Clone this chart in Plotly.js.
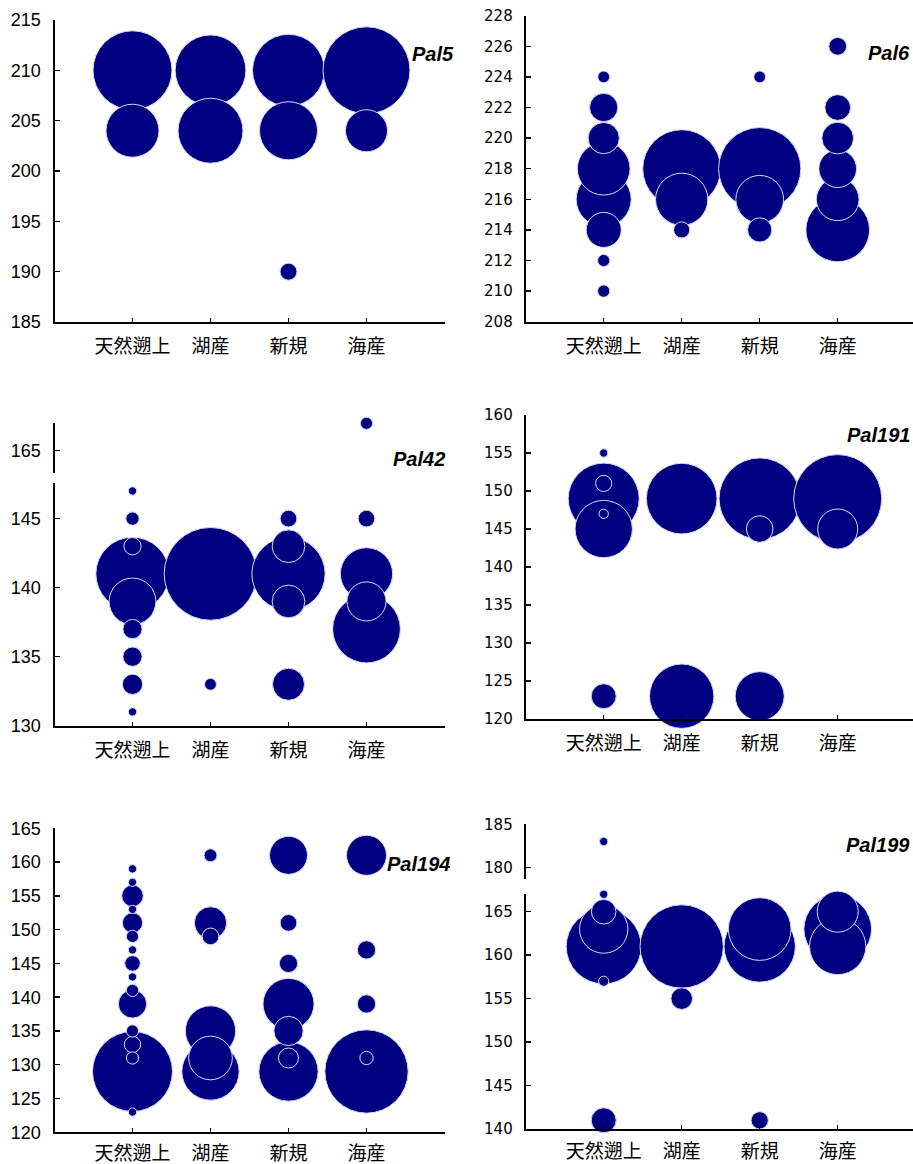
<!DOCTYPE html>
<html><head><meta charset="utf-8">
<script src="https://cdn.plot.ly/plotly-3.0.1.min.js"></script>
<style>html,body{margin:0;padding:0;background:#fff;} #chart{width:913px;height:1164px;}</style>
</head><body><div id="chart"></div>
<script>
// ---------------- DATA ----------------
const categories = ['天然遡上', '湖産', '新規', '海産'];
const categoryX = [1, 2, 3, 4];
const lociNames = ['Pal5', 'Pal6', 'Pal42', 'Pal191', 'Pal194', 'Pal199'];

// allele sizes (bp) per population, in the order of `categories`
const pal5Alleles = [[210, 204], [210, 204], [210, 204, 190], [210, 204]];
const pal5Freq    = [[0.671, 0.302], [0.538, 0.454], [0.557, 0.362, 0.031], [0.814, 0.190]];

const pal6Alleles = [[224, 222, 220, 218, 216, 214, 212, 210], [218, 216, 214], [224, 218, 216, 214], [226, 222, 220, 218, 216, 214]];
const pal6Freq    = [[0.015, 0.086, 0.105, 0.299, 0.325, 0.132, 0.016, 0.016], [0.654, 0.294, 0.028], [0.015, 0.728, 0.245, 0.063], [0.034, 0.071, 0.108, 0.153, 0.196, 0.436]];

const pal42Alleles = [[147, 145, 143, 141, 139, 137, 135, 133, 131], [141, 133], [145, 143, 141, 139, 133], [167, 145, 141, 139, 137]];
const pal42Freq    = [[0.0074, 0.019, 0.032, 0.578, 0.235, 0.040, 0.040, 0.044, 0.0074], [0.924, 0.015], [0.030, 0.115, 0.578, 0.115, 0.110], [0.016, 0.030, 0.294, 0.164, 0.493]];

const pal191Alleles = [[155, 151, 149, 147, 145, 123], [149, 123], [149, 145, 123], [149, 145]];
const pal191Freq    = [[0.0074, 0.028, 0.542, 0.0094, 0.353, 0.067], [0.537, 0.445], [0.711, 0.076, 0.258], [0.833, 0.172]];

const pal194Alleles = [[159, 157, 155, 153, 151, 149, 147, 145, 143, 141, 139, 135, 133, 131, 129, 123], [161, 151, 149, 135, 131, 129], [161, 151, 145, 139, 135, 131, 129], [161, 147, 139, 131, 129]];
const pal194Freq    = [[0.0074, 0.0074, 0.050, 0.0074, 0.044, 0.016, 0.0074, 0.026, 0.0074, 0.016, 0.086, 0.016, 0.029, 0.016, 0.688, 0.0074], [0.018, 0.112, 0.030, 0.272, 0.205, 0.353], [0.155, 0.030, 0.036, 0.280, 0.092, 0.043, 0.378], [0.172, 0.036, 0.036, 0.019, 0.747]];

const pal199Alleles = [[183, 167, 165, 163, 161, 157, 141], [161, 155], [163, 161, 141], [165, 163, 161]];
const pal199Freq    = [[0.0074, 0.0074, 0.065, 0.251, 0.605, 0.011, 0.067], [0.747, 0.050], [0.422, 0.547, 0.032], [0.181, 0.492, 0.341]];

// ---------------- LAYOUT / STYLE ----------------
const W = 913, H = 1164;
const NAVY = '#000080';
const leftFont = {family: 'Liberation Sans, Arial, sans-serif', size: 18, color: '#000'};
const rightFont = {family: 'DejaVu Sans, sans-serif', size: 15, color: '#000'};
const catFont = {family: 'Noto Sans CJK JP, sans-serif', size: 19, color: '#000'};
const labelFont = {family: 'Liberation Sans, Arial, sans-serif', size: 20, color: '#000'};
const unit = 78;

const panels = [
  {alleles: pal5Alleles, freq: pal5Freq, xl: 54.5, font: leftFont, catPad: 6,
   segs: [{range: [185, 215], top: 20, bottom: 322, dtick: 5}], lab: [410, 54.3]},
  {alleles: pal6Alleles, freq: pal6Freq, xl: 525.7, font: rightFont, catPad: 6,
   segs: [{range: [208, 228], top: 15.7, bottom: 321.7, dtick: 2}], lab: [866, 53.3]},
  {alleles: pal42Alleles, freq: pal42Freq, xl: 54.5, font: leftFont, catPad: 6,
   segs: [{range: [130, 147.6], top: 482.7, bottom: 725.7, dtick: 5},
          {range: [163.4, 167.0], top: 423.3, bottom: 472.7, tickvals: [165]}], lab: [390.7, 459.3]},
  {alleles: pal191Alleles, freq: pal191Freq, xl: 525.7, font: rightFont, catPad: 6,
   segs: [{range: [120, 160], top: 415, bottom: 719, dtick: 5}], lab: [845, 435]},
  {alleles: pal194Alleles, freq: pal194Freq, xl: 54.5, font: leftFont, catPad: 3,
   segs: [{range: [120, 165], top: 828.3, bottom: 1132.3, dtick: 5}], lab: [385, 864]},
  {alleles: pal199Alleles, freq: pal199Freq, xl: 525.7, font: rightFont, catPad: 4,
   segs: [{range: [140, 167], top: 894.3, bottom: 1129, dtick: 5},
          {range: [178.6, 185], top: 824.3, bottom: 879.3, tickvals: [180, 185]}], lab: [844, 845]}
];

const sizeref = 2 / 9300;
const traces = [];
const layout = {
  width: W, height: H, margin: {l: 0, r: 0, t: 0, b: 0},
  paper_bgcolor: '#fff', plot_bgcolor: 'rgba(0,0,0,0)',
  showlegend: false, annotations: []
};

let yCount = 0;
panels.forEach((p, pi) => {
  const xi = pi + 1;
  const xName = xi === 1 ? 'x' : 'x' + xi;
  const xKey = xi === 1 ? 'xaxis' : 'xaxis' + xi;
  const xr = Math.min(p.xl + 5 * unit, W);
  const xmax = (xr - p.xl) / unit;
  const yNames = [];
  p.segs.forEach((s, si) => {
    yCount++;
    const yName = yCount === 1 ? 'y' : 'y' + yCount;
    const yKey = yCount === 1 ? 'yaxis' : 'yaxis' + yCount;
    yNames.push(yName);
    const ax = {
      domain: [1 - s.bottom / H, 1 - s.top / H], range: s.range, anchor: xName,
      showline: true, linecolor: '#000', linewidth: 2, showgrid: false, zeroline: false,
      ticks: 'inside', ticklen: 5, tickwidth: 1.5, tickcolor: '#000',
      tickfont: p.font, ticklabelstandoff: 8, fixedrange: true
    };
    if (s.tickvals) { ax.tickmode = 'array'; ax.tickvals = s.tickvals; }
    else { ax.tickmode = 'linear'; ax.tick0 = s.range[0]; ax.dtick = s.dtick; }
    layout[yKey] = ax;
  });
  layout[xKey] = {
    domain: [p.xl / W, xr / W], range: [0, xmax], anchor: yNames[0],
    showline: true, linecolor: '#000', linewidth: 2, showgrid: false, zeroline: false,
    ticks: 'inside', ticklen: 4, tickwidth: 1.5, tickcolor: '#000',
    tickmode: 'array', tickvals: [1, 2, 3, 4, 5], ticktext: categories.concat(['']),
    tickfont: catFont, ticklabelstandoff: p.catPad, fixedrange: true
  };
  categories.forEach((c, ci) => {
    p.segs.forEach((s, si) => {
      const pts = [];
      p.alleles[ci].forEach((a, k) => {
        const inSeg = si === 0 ? a <= s.range[1] : a > p.segs[0].range[1];
        if (inSeg) pts.push({y: a, f: p.freq[ci][k]});
      });
      if (!pts.length) return;
      pts.sort((u, v) => v.f - u.f);
      traces.push({
        type: 'scatter', mode: 'markers', xaxis: xName, yaxis: yNames[si],
        x: pts.map(() => categoryX[ci]), y: pts.map(d => d.y),
        cliponaxis: false, hoverinfo: 'skip',
        marker: {size: pts.map(d => d.f), sizemode: 'area', sizeref: sizeref,
                 color: NAVY, opacity: 1, line: {color: 'rgba(215,215,250,1)', width: 1}}
      });
    });
  });
  layout.annotations.push({
    xref: 'paper', yref: 'paper', x: p.lab[0] / W, y: 1 - p.lab[1] / H,
    xanchor: 'left', yanchor: 'middle', showarrow: false,
    text: '<b><i>' + lociNames[pi] + '</i></b>', font: labelFont
  });
});

Plotly.newPlot('chart', traces, layout, {displayModeBar: false, staticPlot: true});
</script>
</body></html>
